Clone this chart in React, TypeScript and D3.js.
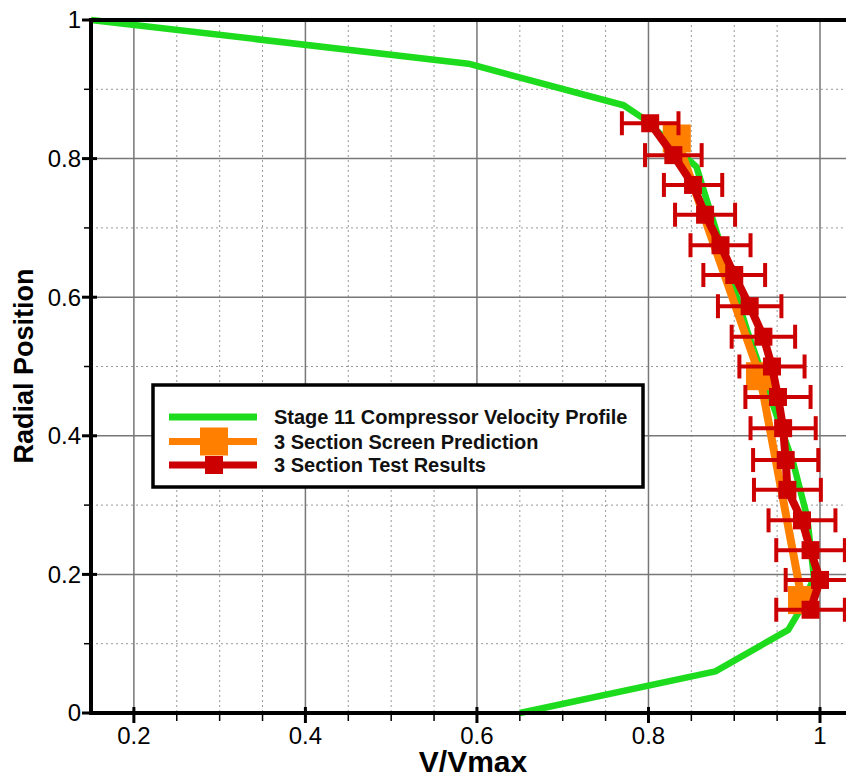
import React from "react";
import * as d3 from "d3";

// Stage 11 compressor velocity profile (V/Vmax, radial position)
const profileV = [0.15, 0.59, 0.771, 0.794, 0.856, 0.915, 0.969, 0.985, 0.993, 0.975, 0.963, 0.878, 0.65];
const profileR = [1.0, 0.937, 0.877, 0.858, 0.788, 0.552, 0.36, 0.283, 0.195, 0.145, 0.12, 0.06, 0.0];

// 3 section screen prediction
const predV = [0.833, 0.93, 0.979];
const predR = [0.829, 0.486, 0.163];

// 3 section test results with horizontal error half-widths
const testV = [0.802, 0.829, 0.852, 0.866, 0.884, 0.9, 0.918, 0.934, 0.944, 0.951, 0.957, 0.96, 0.962, 0.979, 0.989, 1.0, 0.989];
const testR = [0.851, 0.805, 0.762, 0.719, 0.675, 0.632, 0.587, 0.543, 0.5, 0.456, 0.411, 0.365, 0.322, 0.278, 0.235, 0.192, 0.149];
const testErr = [0.033, 0.033, 0.034, 0.035, 0.035, 0.036, 0.037, 0.037, 0.038, 0.038, 0.038, 0.038, 0.039, 0.039, 0.04, 0.04, 0.04];

const xMajor = [0.2, 0.4, 0.6, 0.8, 1.0];
const xMajorLabels = ["0.2", "0.4", "0.6", "0.8", "1"];
const yMajor = [0, 0.2, 0.4, 0.6, 0.8, 1.0];
const yMajorLabels = ["0", "0.2", "0.4", "0.6", "0.8", "1"];
const xMinor = [0.25, 0.3, 0.35, 0.45, 0.5, 0.55, 0.65, 0.7, 0.75, 0.85, 0.9, 0.95];
const yMinor = [0.1, 0.3, 0.5, 0.7, 0.9];

const legendItems = [
  "Stage 11 Compressor Velocity Profile",
  "3 Section Screen Prediction",
  "3 Section Test Results",
];

const W = 846;
const H = 778;
const GREEN = "#1ddc1d";
const ORANGE = "#ff8000";
const RED = "#cc0000";
const FONT = "'Liberation Sans', Arial, sans-serif";

export default function App() {
  const x = d3.scaleLinear().domain([0.15, 1.0]).range([91, 820]);
  const y = d3.scaleLinear().domain([0, 1]).range([713, 20]);
  const right = W;
  const line = d3
    .line<[number, number]>()
    .x((d) => x(d[0]))
    .y((d) => y(d[1]));

  const profile = profileV.map((v, i) => [v, profileR[i]] as [number, number]);
  const pred = predV.map((v, i) => [v, predR[i]] as [number, number]);
  const test = testV.map((v, i) => [v, testR[i]] as [number, number]);

  return (
    <svg width={W} height={H} style={{ display: "block", position: "absolute", left: 0, top: 0 }}>
      <rect x={0} y={0} width={W} height={H} fill="#fff" />
      {/* minor grid */}
      {xMinor.map((v) => (
        <line key={"xm" + v} x1={x(v)} x2={x(v)} y1={y(1)} y2={y(0)} stroke="#999" strokeWidth={1} strokeDasharray="2,3" />
      ))}
      {yMinor.map((v) => (
        <line key={"ym" + v} x1={x(0.15)} x2={right} y1={y(v)} y2={y(v)} stroke="#999" strokeWidth={1} strokeDasharray="2,3" />
      ))}
      {/* major grid */}
      {xMajor.map((v) => (
        <line key={"xg" + v} x1={x(v)} x2={x(v)} y1={y(1)} y2={y(0)} stroke="#777" strokeWidth={1.5} />
      ))}
      {yMajor.map((v) => (
        <line key={"yg" + v} x1={x(0.15)} x2={right} y1={y(v)} y2={y(v)} stroke="#777" strokeWidth={1.5} />
      ))}

      {/* velocity profile */}
      <path d={line(profile) || ""} fill="none" stroke={GREEN} strokeWidth={6.5} strokeLinejoin="round" />

      {/* prediction */}
      <path d={line(pred) || ""} fill="none" stroke={ORANGE} strokeWidth={8} />
      {pred.map((d, i) => (
        <rect key={"p" + i} x={x(d[0]) - 14} y={y(d[1]) - 14} width={28} height={28} fill={ORANGE} />
      ))}

      {/* test results */}
      {test.map((d, i) => {
        const x0 = x(d[0] - testErr[i]);
        const x1 = x(d[0] + testErr[i]);
        const cy = y(d[1]);
        return (
          <g key={"e" + i} stroke={RED} strokeWidth={4}>
            <line x1={x0} x2={x1} y1={cy} y2={cy} />
            <line x1={x0} x2={x0} y1={cy - 12} y2={cy + 12} />
            <line x1={x1} x2={x1} y1={cy - 12} y2={cy + 12} />
          </g>
        );
      })}
      <path d={line(test) || ""} fill="none" stroke={RED} strokeWidth={8} strokeLinejoin="round" />
      {test.map((d, i) => (
        <rect key={"t" + i} x={x(d[0]) - 9} y={y(d[1]) - 9} width={18} height={18} fill={RED} />
      ))}

      {/* axes frame */}
      <line x1={x(0.15)} x2={x(0.15)} y1={y(1) - 2} y2={y(0) + 2} stroke="#000" strokeWidth={4} />
      <line x1={x(0.15) - 2} x2={right} y1={y(0)} y2={y(0)} stroke="#000" strokeWidth={4} />
      <line x1={x(0.15) - 2} x2={right} y1={y(1)} y2={y(1)} stroke="#000" strokeWidth={4} />

      {/* x ticks */}
      {xMinor.map((v) => (
        <line key={"xmt" + v} x1={x(v)} x2={x(v)} y1={y(0)} y2={y(0) + 8} stroke="#000" strokeWidth={1.5} />
      ))}
      {xMajor.map((v, i) => (
        <g key={"xt" + v}>
          <line x1={x(v)} x2={x(v)} y1={y(0) - 6} y2={y(0) + 10} stroke="#000" strokeWidth={3} />
          <text x={x(v)} y={744} textAnchor="middle" fontFamily={FONT} fontSize={24} fill="#000">
            {xMajorLabels[i]}
          </text>
        </g>
      ))}

      {/* y ticks */}
      {yMinor.map((v) => (
        <line key={"ymt" + v} x1={x(0.15) - 7} x2={x(0.15)} y1={y(v)} y2={y(v)} stroke="#000" strokeWidth={1.5} />
      ))}
      {yMajor.map((v, i) => (
        <g key={"yt" + v}>
          <line x1={x(0.15) - 9} x2={x(0.15) + 6} y1={y(v)} y2={y(v)} stroke="#000" strokeWidth={3} />
          <text x={81} y={y(v)} dy="0.35em" textAnchor="end" fontFamily={FONT} fontSize={24} fill="#000">
            {yMajorLabels[i]}
          </text>
        </g>
      ))}

      {/* axis titles */}
      <text x={473} y={772} textAnchor="middle" fontFamily={FONT} fontSize={30} fontWeight="bold" fill="#000">
        V/Vmax
      </text>
      <text
        transform="translate(33,366) rotate(-90)"
        textAnchor="middle"
        fontFamily={FONT}
        fontSize={27}
        fontWeight="bold"
        fill="#000"
      >
        Radial Position
      </text>

      {/* legend */}
      <g>
        <rect x={153} y={385} width={490} height={102} fill="#fff" stroke="#000" strokeWidth={3.5} />
        {legendItems.map((label, i) => {
          const ly = [417, 441.5, 465][i];
          const color = [GREEN, ORANGE, RED][i];
          return (
            <g key={"lg" + i}>
              <line x1={169} x2={257} y1={ly} y2={ly} stroke={color} strokeWidth={7} />
              {i === 1 && <rect x={200} y={ly - 14} width={28} height={28} fill={ORANGE} />}
              {i === 2 && <rect x={205} y={ly - 9} width={18} height={18} fill={RED} />}
              <text x={274} y={ly + 7} fontFamily={FONT} fontSize={20} fontWeight="bold" fill="#111">
                {label}
              </text>
            </g>
          );
        })}
      </g>
    </svg>
  );
}
